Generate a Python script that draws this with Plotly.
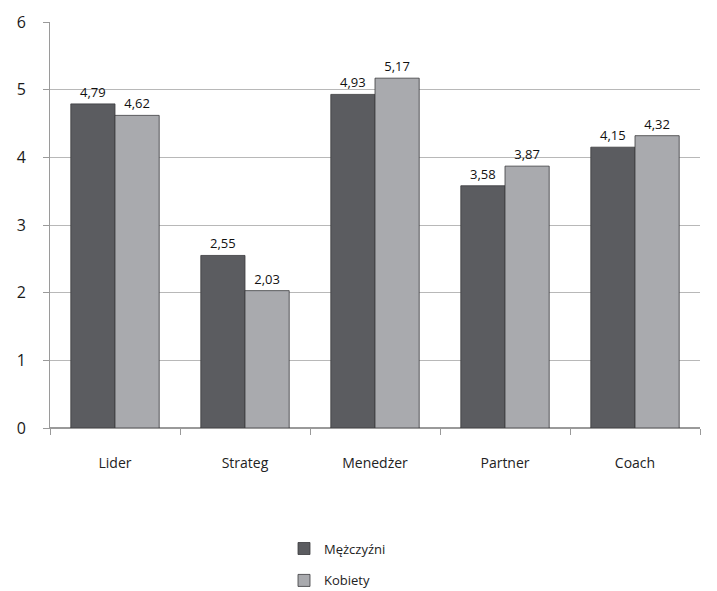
import plotly.graph_objects as go

categories = ["Lider", "Strateg", "Menedżer", "Partner", "Coach"]
men = [4.79, 2.55, 4.93, 3.58, 4.15]
women = [4.62, 2.03, 5.17, 3.87, 4.32]
series_names = ["Mężczyźni", "Kobiety"]
colors = ["#5b5c60", "#a9aaae"]

fig = go.Figure()
for name, vals, col, grp in [(series_names[0], men, colors[0], "a"), (series_names[1], women, colors[1], "b")]:
    fig.add_trace(go.Bar(
        x=categories, y=vals, name=name, legendgroup=grp,
        marker=dict(color=col, line=dict(color="#3a3a3c", width=0.8)),
        texttemplate="%{y:.2f}", textposition="outside",
        textfont=dict(size=13, color="#111", family="Open Sans"),
        cliponaxis=False,
    ))

fig.update_layout(
    width=717, height=591,
    margin=dict(l=50, r=17, t=22, b=163, autoexpand=False),
    paper_bgcolor="white", plot_bgcolor="white",
    separators=",.",
    barmode="group", bargap=0.32, bargroupgap=0.0,
    font=dict(family="Open Sans", size=14, color="#222"),
    showlegend=True,
    legend=dict(x=0.36, y=-0.26, xanchor="left", yanchor="top",
                orientation="v", tracegroupgap=12,
                font=dict(size=13, color="#222")),
    yaxis=dict(range=[0, 6], dtick=1, showgrid=True, gridcolor="#b8b8b8",
               gridwidth=1, zeroline=True, zerolinecolor="#9a9a9a",
               showline=True, linecolor="#9a9a9a", ticks="outside",
               ticklen=6, tickcolor="#9a9a9a", ticklabelstandoff=14,
               tickfont=dict(size=16, color="#1a1a1a")),
    xaxis=dict(showline=True, linecolor="#9a9a9a", ticks="outside",
               tickson="boundaries",
               tickcolor="#9a9a9a", ticklen=6, ticklabelstandoff=22,
               tickfont=dict(size=14), mirror=False),
)
fig.write_html("out.html")
